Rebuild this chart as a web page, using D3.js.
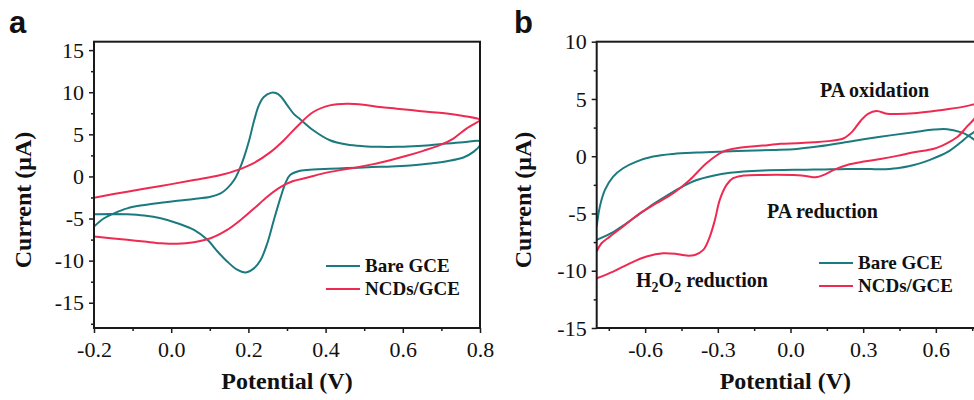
<!DOCTYPE html>
<html>
<head>
<meta charset="utf-8">
<script src="https://cdn.jsdelivr.net/npm/d3@7"></script>
<style>
  body { margin: 0; background: #fff; }
  svg { display: block; }
  .title { font-family: "Liberation Serif", "Times New Roman", serif; font-weight: bold; font-size: 24px; fill: #111; }
  .note { font-family: "Liberation Serif", "Times New Roman", serif; font-weight: bold; font-size: 20px; fill: #111; }
  .legend text { font-family: "Liberation Serif", "Times New Roman", serif; font-weight: bold; font-size: 19px; fill: #111; }
  .panel-label { font-family: "Liberation Sans", Arial, sans-serif; font-weight: bold; font-size: 31px; fill: #111; }
</style>
</head>
<body>
<svg id="chart" width="974" height="400"></svg>
<script>
const TEAL = "#1b7a7e";
const RED = "#ef2a52";

// ---- panel a : [potential (V), current (uA)] ----
const aBareForward = [[-0.2, -5.96], [-0.174, -4.97], [-0.148, -4.38], [-0.114, -3.79], [-0.07, -3.39], [-0.027, -3.12],
  [0.016, -2.88], [0.059, -2.68], [0.102, -2.41], [0.128, -2.01], [0.145, -1.42], [0.163, -0.43], [0.176, 0.75],
  [0.189, 2.33], [0.202, 4.3], [0.215, 6.67], [0.227, 8.44], [0.24, 9.43], [0.258, 9.92], [0.271, 9.9], [0.284, 9.5],
  [0.301, 8.44], [0.318, 7.4], [0.334, 6.8], [0.368, 5.48], [0.411, 4.3], [0.455, 3.79], [0.498, 3.59], [0.541, 3.51],
  [0.584, 3.51], [0.627, 3.59], [0.67, 3.71], [0.714, 3.9], [0.757, 4.06], [0.8, 4.18]];
const aBareReverse = [[0.8, 3.71], [0.783, 2.92], [0.757, 2.25], [0.714, 1.81], [0.67, 1.54], [0.627, 1.34], [0.584, 1.22],
  [0.541, 1.14], [0.498, 1.07], [0.455, 0.99], [0.411, 0.91], [0.368, 0.83], [0.334, 0.67], [0.308, 0.16], [0.296, -0.8],
  [0.284, -2.4], [0.266, -5.17], [0.249, -7.93], [0.232, -9.9], [0.215, -10.89], [0.193, -11.4], [0.171, -11.08],
  [0.145, -10.1], [0.12, -8.92], [0.094, -7.53], [0.059, -6.35], [0.016, -5.56], [-0.027, -4.97], [-0.07, -4.65],
  [-0.114, -4.5], [-0.157, -4.46], [-0.2, -4.5]];
const aNcdForward = [[-0.2, -2.52], [-0.114, -1.81], [-0.027, -1.14], [0.059, -0.43], [0.128, 0.16], [0.171, 0.75],
  [0.215, 1.62], [0.258, 2.92], [0.292, 4.3], [0.325, 5.88], [0.368, 7.65], [0.411, 8.44], [0.455, 8.64], [0.498, 8.52],
  [0.541, 8.24], [0.584, 8.05], [0.627, 7.85], [0.67, 7.65], [0.714, 7.46], [0.757, 7.18], [0.8, 6.75]];
const aNcdReverse = [[0.8, 6.67], [0.765, 5.68], [0.731, 4.5], [0.696, 3.71], [0.653, 3.04], [0.61, 2.45], [0.567, 1.93],
  [0.524, 1.46], [0.48, 1.07], [0.437, 0.75], [0.394, 0.36], [0.351, -0.16], [0.316, -0.55], [0.284, -1.25],
  [0.249, -2.41], [0.215, -3.79], [0.18, -5.17], [0.145, -6.35], [0.102, -7.34], [0.059, -7.81], [0.016, -8.0],
  [-0.027, -7.93], [-0.07, -7.73], [-0.114, -7.53], [-0.157, -7.34], [-0.2, -7.14]];

// ---- panel b ----
const bBareForward = [[-0.8, -6.15], [-0.787, -4.4], [-0.766, -2.94], [-0.732, -1.78], [-0.691, -1.05], [-0.636, -0.47],
  [-0.567, -0.03], [-0.484, 0.2], [-0.388, 0.32], [-0.292, 0.4], [-0.182, 0.47], [-0.072, 0.55], [0.025, 0.64],
  [0.096, 0.8], [0.234, 1.25], [0.371, 1.7], [0.509, 2.1], [0.592, 2.33], [0.647, 2.36], [0.702, 2.1], [0.73, 1.85],
  [0.76, 1.42], [0.8, 0.8]];
const bBareReverse = [[0.8, 2.9], [0.76, 2.15], [0.73, 1.7], [0.702, 1.2], [0.647, 0.35], [0.578, -0.3], [0.537, -0.6],
  [0.509, -0.76], [0.44, -1.05], [0.371, -1.14], [0.303, -1.11], [0.234, -1.11], [0.165, -1.14], [0.096, -1.17],
  [0.028, -1.18], [-0.113, -1.25], [-0.25, -1.45], [-0.32, -1.7], [-0.39, -2.1], [-0.45, -2.7], [-0.5, -3.3],
  [-0.56, -4.1], [-0.62, -5.0], [-0.68, -5.9], [-0.73, -6.6], [-0.8, -7.3]];
const bNcdForward = [[-0.8, -10.66], [-0.732, -10.08], [-0.663, -9.35], [-0.594, -8.76], [-0.526, -8.47], [-0.471, -8.53],
  [-0.429, -8.68], [-0.395, -8.62], [-0.36, -8.18], [-0.333, -7.02], [-0.312, -5.56], [-0.292, -3.81], [-0.264, -2.5],
  [-0.237, -1.92], [-0.195, -1.69], [-0.113, -1.63], [0.03, -1.66], [0.069, -1.74], [0.103, -1.84], [0.138, -1.63],
  [0.179, -1.19], [0.234, -0.76], [0.303, -0.47], [0.371, -0.24], [0.44, 0.03], [0.509, 0.35], [0.592, 0.65],
  [0.647, 1.15], [0.69, 1.7], [0.729, 2.6], [0.76, 3.3], [0.8, 4.8]];
const bNcdReverse = [[0.8, 4.8], [0.76, 4.55], [0.716, 4.33], [0.647, 4.1], [0.578, 3.9], [0.509, 3.75], [0.44, 3.69],
  [0.4, 3.7], [0.355, 3.95], [0.32, 3.7], [0.29, 3.1], [0.255, 2.15], [0.22, 1.57], [0.165, 1.34], [0.096, 1.22],
  [0.028, 1.13], [-0.041, 1.08], [-0.113, 0.93], [-0.223, 0.7], [-0.278, 0.4], [-0.347, -0.61], [-0.416, -2.07],
  [-0.484, -3.23], [-0.553, -4.1], [-0.622, -4.98], [-0.691, -6.14], [-0.746, -7.02], [-0.78, -7.6], [-0.8, -8.3]];

// ticks
const aXTicks = [-0.2, 0.0, 0.2, 0.4, 0.6, 0.8];
const aXMinor = [-0.1, 0.1, 0.3, 0.5, 0.7];
const aYTicks = [-15, -10, -5, 0, 5, 10, 15];
const aYMinor = [-17.5, -12.5, -7.5, -2.5, 2.5, 7.5, 12.5];
const bXTicks = [-0.6, -0.3, 0.0, 0.3, 0.6];
const bXMinor = [-0.75, -0.45, -0.15, 0.15, 0.45, 0.75];
const bYTicks = [-15, -10, -5, 0, 5, 10];
const bYMinor = [-12.5, -7.5, -2.5, 2.5, 7.5];

const seriesNames = ["Bare GCE", "NCDs/GCE"];
const seriesColors = [TEAL, RED];

const svg = d3.select("#chart");
const fmtX = d => d3.format(".1f")(d).replace("\u2212", "-");
const fmtY = d => String(d);

function drawPanel(cfg) {
  const x = d3.scaleLinear().domain(cfg.xDomain).range([cfg.left, cfg.right]);
  const y = d3.scaleLinear().domain(cfg.yDomain).range([cfg.bottom, cfg.top]);
  const g = svg.append("g");

  const clipId = "clip-" + cfg.label;
  g.append("clipPath").attr("id", clipId)
    .append("rect")
    .attr("x", cfg.left).attr("y", cfg.top)
    .attr("width", cfg.right - cfg.left).attr("height", cfg.bottom - cfg.top);

  // curves
  const line = d3.line().x(d => x(d[0])).y(d => y(d[1])).curve(d3.curveCatmullRom.alpha(0.5));
  cfg.series.forEach((s, i) => {
    g.append("path")
      .attr("clip-path", `url(#${clipId})`)
      .attr("d", line(s.forward.concat(s.reverse)))
      .attr("fill", "none")
      .attr("stroke", seriesColors[i])
      .attr("stroke-width", 2);
  });

  // axes
  const xAxis = g.append("g").attr("transform", `translate(0,${cfg.bottom})`)
    .call(d3.axisBottom(x).tickValues(cfg.xTicks).tickFormat(fmtX).tickSize(5).tickPadding(8));
  const xMinor = g.append("g").attr("transform", `translate(0,${cfg.bottom})`)
    .call(d3.axisBottom(x).tickValues(cfg.xMinor).tickFormat("").tickSize(3));
  const yAxis = g.append("g").attr("transform", `translate(${cfg.left},0)`)
    .call(d3.axisLeft(y).tickValues(cfg.yTicks).tickFormat(fmtY).tickSize(5).tickPadding(5));
  const yMinor = g.append("g").attr("transform", `translate(${cfg.left},0)`)
    .call(d3.axisLeft(y).tickValues(cfg.yMinor).tickFormat("").tickSize(3));
  [xAxis, xMinor, yAxis, yMinor].forEach(a => {
    a.select(".domain").remove();
    a.selectAll(".tick line").attr("stroke", "#1a1a1a").attr("stroke-width", 1.5);
    a.attr("font-family", "Liberation Serif, Times New Roman, serif").attr("font-size", 22);
    a.selectAll(".tick text")
      .style("font-family", "'Liberation Serif', 'Times New Roman', serif")
      .style("font-size", "22px")
      .attr("fill", "#111");
  });

  // frame
  g.append("rect")
    .attr("x", cfg.left).attr("y", cfg.top)
    .attr("width", cfg.right - cfg.left).attr("height", cfg.bottom - cfg.top)
    .attr("fill", "none").attr("stroke", "#1a1a1a").attr("stroke-width", 2);

  // titles
  g.append("text").attr("class", "title")
    .attr("x", (cfg.left + Math.min(cfg.right, 974)) / 2).attr("y", 389)
    .attr("text-anchor", "middle").text("Potential (V)");
  g.append("text").attr("class", "title")
    .attr("transform", `translate(${cfg.yTitleX},200) rotate(-90)`)
    .attr("text-anchor", "middle").text("Current (\u03bcA)");

  g.append("text").attr("class", "panel-label")
    .attr("x", cfg.labelX).attr("y", 33).text(cfg.label);

  // legend
  const lg = g.append("g").attr("class", "legend");
  seriesNames.forEach((name, i) => {
    const ly = cfg.legendY + i * 23;
    lg.append("line")
      .attr("x1", cfg.legendX).attr("x2", cfg.legendX + 34)
      .attr("y1", ly).attr("y2", ly)
      .attr("stroke", seriesColors[i]).attr("stroke-width", 2);
    lg.append("text").attr("x", cfg.legendX + 39).attr("y", ly + 6).text(name);
  });

  return { x, y, g };
}

drawPanel({
  label: "a", labelX: 9,
  left: 94, right: 480, top: 41.7, bottom: 328,
  xDomain: [-0.2, 0.8], yDomain: [-18, 16],
  xTicks: aXTicks, xMinor: aXMinor, yTicks: aYTicks, yMinor: aYMinor,
  series: [{ forward: aBareForward, reverse: aBareReverse }, { forward: aNcdForward, reverse: aNcdReverse }],
  yTitleX: 31,
  legendX: 326, legendY: 266
});

const pb = drawPanel({
  label: "b", labelX: 514,
  left: 596.7, right: 984.3, top: 41.7, bottom: 328,
  xDomain: [-0.8, 0.8], yDomain: [-15, 10],
  xTicks: bXTicks, xMinor: bXMinor, yTicks: bYTicks, yMinor: bYMinor,
  series: [{ forward: bBareForward, reverse: bBareReverse }, { forward: bNcdForward, reverse: bNcdReverse }],
  yTitleX: 531,
  legendX: 819, legendY: 263
});

// annotations in panel b
pb.g.append("text").attr("class", "note").attr("x", 820).attr("y", 97).text("PA oxidation");
pb.g.append("text").attr("class", "note").attr("x", 767).attr("y", 218).text("PA reduction");
const h2o2 = pb.g.append("text").attr("class", "note").attr("x", 636).attr("y", 287);
h2o2.append("tspan").text("H");
h2o2.append("tspan").attr("font-size", 14).attr("dy", 5).text("2");
h2o2.append("tspan").attr("dy", -5).text("O");
h2o2.append("tspan").attr("font-size", 14).attr("dy", 5).text("2");
h2o2.append("tspan").attr("dy", -5).text(" reduction");
</script>
</body>
</html>
